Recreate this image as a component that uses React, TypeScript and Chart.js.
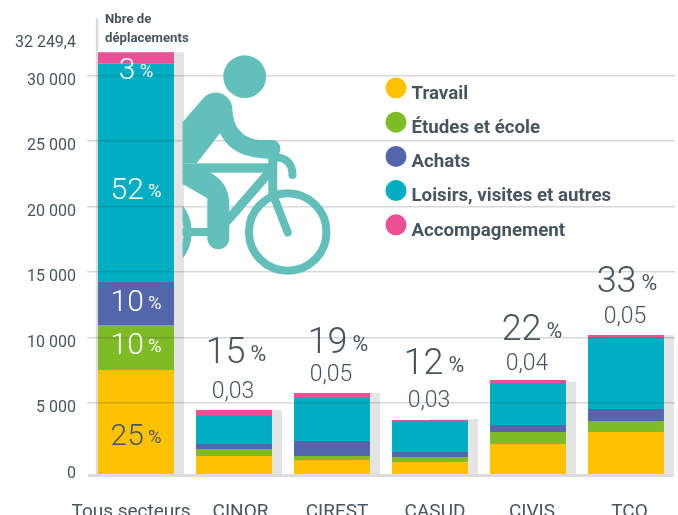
import React, { useEffect, useRef } from "react";
import { Chart, registerables } from "chart.js";

Chart.register(...registerables);

const categories = ["Tous secteurs", "CINOR", "CIREST", "CASUD", "CIVIS", "TCO"];
const travail = [7948, 1376, 1070, 917, 2293, 3210];
const etudes = [3439, 535, 306, 382, 917, 841];
const achats = [3286, 382, 1146, 382, 535, 917];
const loisirs = [16683, 2140, 3286, 2369, 3210, 5426];
const accompagnement = [894, 459, 382, 76, 229, 229];
const shadowTotals = [32249, 4892, 6190, 4203, 7030, 10620];
const gridTicks = [0, 5000, 10000, 15000, 20000, 25000, 30000];
const totalLabel = "32 249,4";
const shareLabels = ["", "15", "19", "12", "22", "33"];
const perInhabitantLabels = ["", "0,03", "0,05", "0,03", "0,04", "0,05"];
const allSectorShares = ["25", "10", "10", "52", "3"];

const TEXT = "#46555f";
const FONT = "Roboto, sans-serif";
const COLORS = ["#fec200", "#7fba27", "#5366ac", "#00aec3", "#ec4f95"];
const SHADOW = "#e4e4e4";
const AXIS = "#dcdcdc";
const RIDER = "#62bfba";
const SHARE_LIFT = [0, 47, 40, 45, 42, 43];
const SHARE_SHIFT = [0, 2, 6, 4, 4, 1];
const INSIDE_DROP = [23, 6.5, 7, 26, 21];
const X_LABEL_SHIFT = [-5, 6.5, 5, 5, 4, 3.5];

function drawPct(ctx: any, num: string, cx: number, baseline: number, size: number, pctSize: number, color: string) {
  ctx.fillStyle = color;
  ctx.textAlign = "left";
  ctx.textBaseline = "alphabetic";
  ctx.font = `300 ${size}px ${FONT}`;
  const w1 = ctx.measureText(num).width;
  ctx.font = `400 ${pctSize}px ${FONT}`;
  const w2 = ctx.measureText("%").width;
  const gap = size * 0.14;
  const left = cx - (w1 + gap + w2) / 2;
  ctx.font = `300 ${size}px ${FONT}`;
  ctx.fillText(num, left, baseline);
  ctx.font = `400 ${pctSize}px ${FONT}`;
  ctx.fillText("%", left + w1 + gap, baseline - 2);
}

function drawRider(ctx: any) {
  ctx.save();
  ctx.beginPath();
  ctx.rect(182.5, 0, 400, 515);
  ctx.clip();
  ctx.fillStyle = RIDER;
  ctx.strokeStyle = RIDER;
  ctx.lineCap = "round";

  ctx.beginPath();
  ctx.arc(244.7, 76.7, 21.4, 0, Math.PI * 2);
  ctx.fill();

  ctx.beginPath();
  ctx.moveTo(180, 125);
  ctx.lineTo(203, 98.5);
  ctx.arc(215.7, 109.3, 16.7, -2.45, 0);
  ctx.bezierCurveTo(233, 128, 244, 140, 262, 140);
  ctx.lineTo(272, 140);
  ctx.arc(272, 148.5, 8.5, -Math.PI / 2, Math.PI / 2.4);
  ctx.lineTo(268.5, 158.7);
  ctx.bezierCurveTo(244, 158, 228, 150, 220, 133.3);
  ctx.lineTo(196.7, 163.3);
  ctx.lineTo(180, 163.3);
  ctx.closePath();
  ctx.fill();

  ctx.fillRect(180, 163.3, 89, 9.4);

  ctx.beginPath();
  ctx.moveTo(180, 171);
  ctx.lineTo(206.7, 171);
  ctx.bezierCurveTo(221, 177, 229.3, 188, 229.3, 204);
  ctx.lineTo(229.3, 238.3);
  ctx.arc(218.3, 238.3, 11, 0, Math.PI);
  ctx.lineTo(207.3, 198.3);
  ctx.lineTo(180, 182.5);
  ctx.closePath();
  ctx.fill();

  ctx.lineWidth = 9;
  ctx.beginPath();
  ctx.moveTo(266, 176);
  ctx.lineTo(227, 221);
  ctx.stroke();
  ctx.beginPath();
  ctx.moveTo(272.8, 158);
  ctx.lineTo(272.8, 196);
  ctx.stroke();

  ctx.lineWidth = 8;
  ctx.beginPath();
  ctx.moveTo(180, 232);
  ctx.lineTo(212, 232);
  ctx.stroke();
  ctx.beginPath();
  ctx.moveTo(274, 197);
  ctx.lineTo(287.7, 232.5);
  ctx.stroke();
  ctx.beginPath();
  ctx.moveTo(276, 157.5);
  ctx.bezierCurveTo(286, 157.5, 292.5, 164, 292.5, 175);
  ctx.stroke();

  ctx.beginPath();
  ctx.arc(287.7, 232, 38.8, 0, Math.PI * 2);
  ctx.stroke();
  ctx.beginPath();
  ctx.arc(149, 232, 38.8, 0, Math.PI * 2);
  ctx.stroke();
  ctx.restore();
}

const decorPlugin = {
  id: "decor",
  beforeDraw(chart: any) {
    const items = chart.scales.x.getLabelItems(chart.chartArea);
    items.forEach((it: any, i: number) => {
      it.options.translation[0] += X_LABEL_SHIFT[i] || 0;
    });
  },
  beforeDatasetsDraw(chart: any) {
    const { ctx, scales } = chart;
    const y = scales.y;
    const elements = chart.getDatasetMeta(0).data;
    const zero = y.getPixelForValue(0);
    ctx.save();
    ctx.fillStyle = SHADOW;
    shadowTotals.forEach((t, i) => {
      const el = elements[i];
      const top = y.getPixelForValue(t);
      ctx.fillRect(el.x, top, el.width / 2 + 10, zero - top);
    });
    ctx.fillStyle = AXIS;
    ctx.fillRect(88, zero, 586, 3);
    const first = elements[0];
    ctx.fillRect(first.x - first.width / 2 - 2.2, 18, 2.4, zero - 18 + 3);
    ctx.restore();
  },
  afterDraw(chart: any) {
    const { ctx, scales } = chart;
    const y = scales.y;
    drawRider(ctx);
    ctx.save();
    const elements = chart.getDatasetMeta(0).data;

    categories.forEach((_, i) => {
      if (!shareLabels[i]) return;
      const el = elements[i];
      const top = y.getPixelForValue(shadowTotals[i]);
      drawPct(ctx, shareLabels[i], el.x + SHARE_SHIFT[i], top - SHARE_LIFT[i], 36, 21.5, TEXT);
      ctx.fillStyle = TEXT;
      ctx.textAlign = "center";
      ctx.textBaseline = "alphabetic";
      ctx.font = `300 23px ${FONT}`;
      ctx.fillText(perInhabitantLabels[i], el.x - 1, top - 12);
    });

    allSectorShares.forEach((s, k) => {
      const el = chart.getDatasetMeta(k).data[0];
      const mid = (el.y + el.base) / 2;
      drawPct(ctx, s, el.x, mid + INSIDE_DROP[k], 30, 18.5, k === 0 ? TEXT : "#ffffff");
    });

    ctx.fillStyle = TEXT;
    ctx.textBaseline = "alphabetic";
    ctx.textAlign = "right";
    ctx.font = `400 16px ${FONT}`;
    ctx.fillText(totalLabel, 76, 46.7);
    ctx.textAlign = "left";
    ctx.font = `700 13.2px ${FONT}`;
    ctx.fillText("Nbre de", 105, 23.3);
    ctx.fillText("déplacements", 105, 42);

    chart.data.datasets.forEach((d: any, i: number) => {
      const cy = 88 + i * 34.2;
      ctx.beginPath();
      ctx.fillStyle = d.backgroundColor;
      ctx.arc(396, cy, 10.5, 0, Math.PI * 2);
      ctx.fill();
      ctx.fillStyle = TEXT;
      ctx.font = `700 18.7px ${FONT}`;
      ctx.textBaseline = "alphabetic";
      ctx.fillText(d.label, 411.5, cy + 10.7);
    });
    ctx.restore();
  },
};

export default function App() {
  const ref = useRef<HTMLCanvasElement>(null);
  useEffect(() => {
    document.body.style.margin = "0";
    const series = [
      ["Travail", travail],
      ["Études et école", etudes],
      ["Achats", achats],
      ["Loisirs, visites et autres", loisirs],
      ["Accompagnement", accompagnement],
    ] as [string, number[]][];
    const chart = new Chart(ref.current as HTMLCanvasElement, {
      type: "bar",
      data: {
        labels: categories,
        datasets: series.map(([label, data], i) => ({
          label,
          data,
          backgroundColor: COLORS[i],
          yAxisID: "y",
          stack: "all",
          barPercentage: 0.775,
          categoryPercentage: 1,
        })),
      },
      options: {
        animation: false,
        responsive: false,
        layout: { padding: { top: 18, right: 3, left: 0, bottom: 0 } },
        plugins: { legend: { display: false }, tooltip: { enabled: false }, title: { display: false } },
        scales: {
          x: {
            stacked: true,
            grid: { display: false },
            border: { display: false },
            afterFit: (s: any) => {
              s.height = 41;
              s.paddingLeft = 0;
              s.paddingRight = 0;
            },
            ticks: {
              color: TEXT,
              font: { family: FONT, size: 19 },
              padding: 19,
              autoSkip: false,
              maxRotation: 0,
            },
          },
          y: {
            display: false,
            stacked: true,
            min: 0,
            max: 34862,
          },
          yGrid: {
            position: "left",
            min: -412,
            max: 34397,
            border: { display: false },
            afterFit: (s: any) => {
              s.width = 87;
              s.paddingTop = 0;
              s.paddingBottom = 0;
            },
            afterBuildTicks: (s: any) => {
              s.ticks = gridTicks.map((value) => ({ value }));
            },
            grid: {
              z: 1,
              drawTicks: false,
              lineWidth: 1.5,
              color: (c: any) => (c.tick && c.tick.value === 0 ? "rgba(0,0,0,0)" : "rgba(60,60,60,0.2)"),
            },
            ticks: {
              color: TEXT,
              font: { family: FONT, size: 16 },
              padding: 11,
              labelOffset: 5,
              callback: (v: any) => String(v).replace(/\B(?=(\d{3})+$)/g, " "),
            },
          },
        },
      },
      plugins: [decorPlugin],
    } as any);
    return () => chart.destroy();
  }, []);
  return <canvas ref={ref} width={678} height={515} style={{ display: "block" }} />;
}
